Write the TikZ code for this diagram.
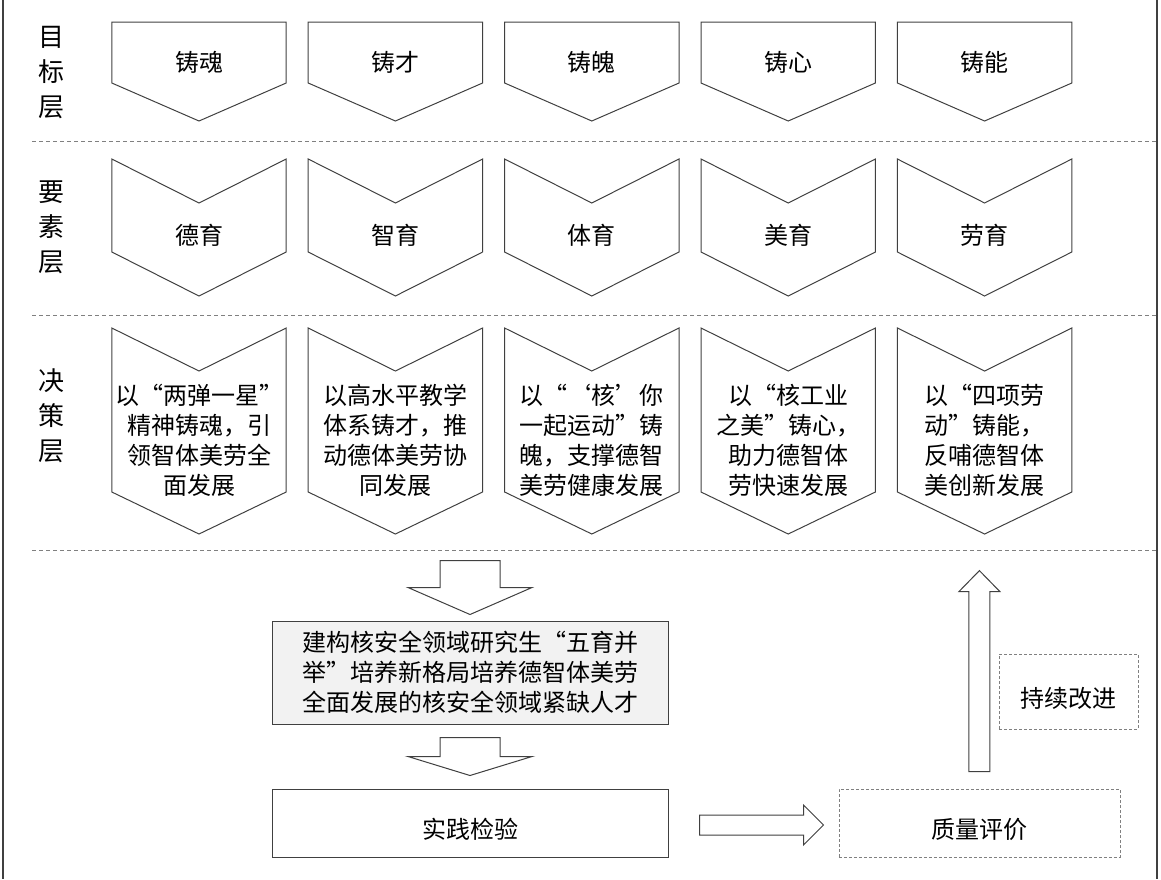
\documentclass[tikz,border=0pt]{standalone}
\usepackage{fontspec}
\setmainfont{Noto Sans CJK SC}[RawFeature=+fwid]
\usetikzlibrary{positioning, calc}

\definecolor{linegray}{HTML}{404040}
\definecolor{dashgray}{HTML}{808080}
\definecolor{boxfill}{HTML}{F2F2F2}

\begin{document}
\begin{tikzpicture}[
    x=1pt, y=-1pt,
    layername/.style={align=center, font=\fontsize{26}{35}\selectfont},
    chevron/.style={minimum width=174pt, inner sep=0pt, align=center, font=\fontsize{24}{30}\selectfont},
    outline/.style={draw=linegray, line width=1pt},
    divider/.style={draw=dashgray, line width=0.8pt, dash pattern=on 4pt off 3pt},
    stagebox/.style={draw=linegray, line width=1pt, minimum width=396pt, inner sep=0pt, align=center, font=\fontsize{24}{30}\selectfont},
    loopbox/.style={draw=dashgray, line width=0.8pt, dash pattern=on 3pt off 2pt, inner sep=0pt, font=\fontsize{24}{30}\selectfont},
    lowtext/.style={text height=31pt, text depth=0pt},
    fatarrow/.style={draw=linegray, fill=white, line width=1pt},
    node distance=22pt
    ]

    \useasboundingbox (0,0) rectangle (1161,879);

    % Frame and layer dividers
    \draw[draw=linegray, line width=1.5pt] (3,0) -- (3,879);
    \draw[draw=linegray, line width=1.5pt] (1157,0) -- (1157,879);
    \draw[divider] (32,141) -- (1157,141);
    \draw[divider] (32,315) -- (1157,315);
    \draw[divider] (32,550) -- (1157,550);

    % Layer names
    \node[layername] (goalname) at (51,73) {目\\标\\层};
    \node[layername] (elemname) at (51,227) {要\\素\\层};
    \node[layername] (decname) at (51,416) {决\\策\\层};

    % Goal layer
    \node[chevron] (hun) at (199,62) {铸魂};
    \node[chevron, right=of hun] (cai) {铸才};
    \node[chevron, right=of cai] (po) {铸魄};
    \node[chevron, right=of po] (xin) {铸心};
    \node[chevron, right=of xin] (neng) {铸能};

    % Element layer
    \node[chevron] (deyu) at (199,235) {德育};
    \node[chevron, right=of deyu] (zhiyu) {智育};
    \node[chevron, right=of zhiyu] (tiyu) {体育};
    \node[chevron, right=of tiyu] (meiyu) {美育};
    \node[chevron, right=of meiyu] (laoyu) {劳育};

    % Decision layer
    \node[chevron] (dhun) at (199,440) {以“两弹一星”\\精神铸魂，引\\领智体美劳全\\面发展};
    \node[chevron, right=of dhun] (dcai) {以高水平教学\\体系铸才，推\\动德体美劳协\\同发展};
    \node[chevron, right=of dcai] (dpo) {以“‘核’你\\一起运动”铸\\魄，支撑德智\\美劳健康发展};
    \node[chevron, right=of dpo] (dxin) {以“核工业\\之美”铸心，\\助力德智体\\劳快速发展};
    \node[chevron, right=of dxin] (dneng) {以“四项劳\\动”铸能，\\反哺德智体\\美创新发展};

    % Chevron outlines
    \foreach \n in {hun,cai,po,xin,neng}
      \draw[outline] ([yshift=40pt]\n.west) -- ([yshift=40pt]\n.east) -- ([yshift=-21pt]\n.east)
        -- ([yshift=-59pt]\n.center) -- ([yshift=-21pt]\n.west) -- cycle;
    \foreach \n in {deyu,zhiyu,tiyu,meiyu,laoyu}
      \draw[outline] ([yshift=76pt]\n.west) -- ([yshift=32pt]\n.center) -- ([yshift=76pt]\n.east)
        -- ([yshift=-17pt]\n.east) -- ([yshift=-61pt]\n.center) -- ([yshift=-17pt]\n.west) -- cycle;
    \foreach \n in {dhun,dcai,dpo,dxin,dneng}
      \draw[outline] ([yshift=112pt]\n.west) -- ([yshift=69pt]\n.center) -- ([yshift=112pt]\n.east)
        -- ([yshift=-52pt]\n.east) -- ([yshift=-94pt]\n.center) -- ([yshift=-52pt]\n.west) -- cycle;

    % Cultivation loop
    \node[stagebox, fill=boxfill, minimum height=103pt] (task) at (470,672.5) {建构核安全领域研究生“五育并\\举”培养新格局培养德智体美劳\\全面发展的核安全领域紧缺人才};
    \node[stagebox, lowtext, minimum height=68pt, below=64pt of task] (practice) {实践检验};
    \node[loopbox, lowtext, minimum width=281pt, minimum height=68pt, right=170pt of practice] (eval) {质量评价};
    \node[loopbox, lowtext, minimum width=139pt, minimum height=75pt] (improve) at (1068.5,691.5) {持续改进};

    % Block arrows
    \draw[fatarrow] ($(task.north)+(0,-6)$) -- ++(-62,-27) -- ++(32,0) -- ++(0,-27) -- ++(60,0) -- ++(0,27) -- ++(32,0) -- cycle;
    \draw[fatarrow] ($(practice.north)+(0,-13)$) -- ++(-62,-19) -- ++(32,0) -- ++(0,-19) -- ++(60,0) -- ++(0,19) -- ++(32,0) -- cycle;
    \draw[fatarrow] ($(eval.west)+(-15,2)$) -- ++(-20,-20) -- ++(0,10) -- ++(-104,0) -- ++(0,20) -- ++(104,0) -- ++(0,10) -- cycle;
    \draw[fatarrow] ($(eval.north)+(-10.5,-17)$) -- ++(0,-180) -- ++(-10,0) -- ++(20.5,-21) -- ++(20.5,21) -- ++(-10,0) -- ++(0,180) -- cycle;

\end{tikzpicture}
\end{document}
